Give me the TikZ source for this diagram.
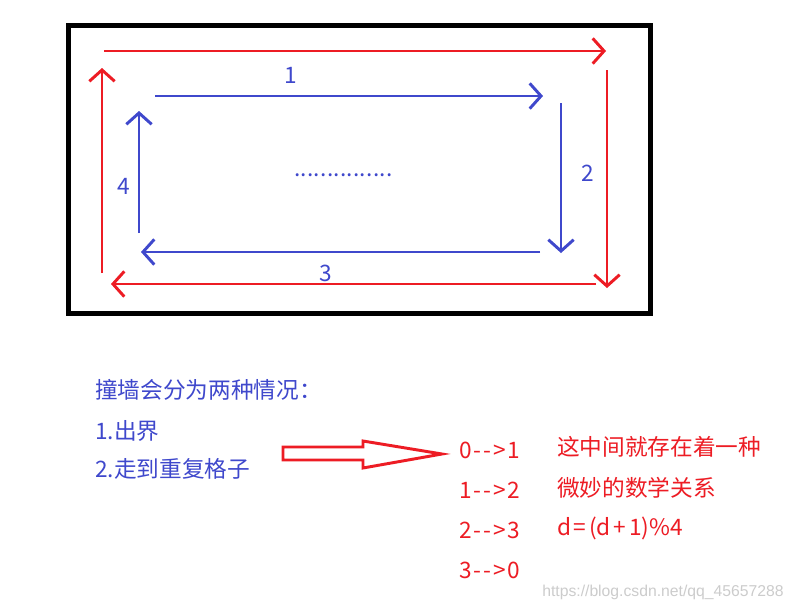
\documentclass[tikz,border=0pt]{standalone}
\usepackage{fontspec}
\setmainfont{Noto Sans CJK SC}
\newfontfamily\wmfont{Liberation Sans}
\usetikzlibrary{arrows.meta}
\definecolor{pred}{HTML}{ED1C24}
\definecolor{pblue}{HTML}{3F48CC}
\newcommand{\darr}{\kern1.2pt-\kern1.7pt-\kern1.7pt>\kern1.2pt}
\newcommand{\dotk}{.\kern0.2pt}
\begin{document}
\begin{tikzpicture}[x=0.75pt,y=-0.75pt,
  redarrow/.style={draw=pred,line width=2.2pt,-{Straight Barb[length=8.5pt,width=19pt]}},
  bluearrow/.style={draw=pblue,line width=2.2pt,-{Straight Barb[length=8.5pt,width=19pt]}},
  txt/.style={font=\fontsize{17pt}{20pt}\selectfont,inner sep=0pt,anchor=west},
  btxt/.style={txt,text=pblue},
  rtxt/.style={txt,text=pred},
  clbl/.style={font=\fontsize{17pt}{20pt}\selectfont,inner sep=0pt,text=pblue}
]
\useasboundingbox (0,0) rectangle (794,611);
\fill[white] (0,0) rectangle (794,611);
% frame
\draw[line width=3.75pt] (68,25) rectangle (650,313);
% red outer arrows
\coordinate (r1s) at (104,51); \coordinate (r1e) at (606,51);
\coordinate (r2s) at (607,70); \coordinate (r2e) at (607,288);
\coordinate (r3s) at (596,284); \coordinate (r3e) at (111,284);
\coordinate (r4s) at (102,273); \coordinate (r4e) at (102,68);
\draw[redarrow] (r1s) -- (r1e);
\draw[redarrow] (r2s) -- (r2e);
\draw[redarrow] (r3s) -- (r3e);
\draw[redarrow] (r4s) -- (r4e);
% blue inner arrows
\coordinate (b1s) at (155,96); \coordinate (b1e) at (543,96);
\coordinate (b2s) at (561,103); \coordinate (b2e) at (561,253);
\coordinate (b3s) at (540,252); \coordinate (b3e) at (141,252);
\coordinate (b4s) at (139,233); \coordinate (b4e) at (139,111);
\draw[bluearrow] (b1s) -- (b1e);
\draw[bluearrow] (b2s) -- (b2e);
\draw[bluearrow] (b3s) -- (b3e);
\draw[bluearrow] (b4s) -- (b4e);
% labels
\node[clbl] (l1) at (291,75) {1};
\node[clbl] (l2) at (588,173) {2};
\node[clbl] (l3) at (326,273) {3};
\node[clbl] (l4) at (124,186) {4};
\node[clbl,anchor=west] (dots) at (294,175) {\dotk\dotk\dotk\dotk\dotk\dotk\dotk\dotk\dotk\dotk\dotk\dotk\dotk\dotk.};
% left texts
\node[btxt] (t1) at (95,390) {撞墙会分为两种情况：};
\node[btxt] (t2) at (95,431) {1.出界};
\node[btxt] (t3) at (95,469) {2.走到重复格子};
% hollow arrow
\draw[draw=pred,line width=2.2pt,line join=miter]
  (283,447) -- (363,447) -- (363,441) -- (442,454) -- (363,468) -- (363,460) -- (283,460) -- cycle;
% right texts
\node[rtxt] (s1) at (459,450) {0\darr 1};
\node[rtxt] (s2) at (459,490) {1\darr 2};
\node[rtxt] (s3) at (459,530) {2\darr 3};
\node[rtxt] (s4) at (459,570) {3\darr 0};
\node[rtxt] (m1) at (557,447) {这中间就存在着一种};
\node[rtxt] (m2) at (557,488) {微妙的数学关系};
\node[rtxt] (m3) at (557,528) {d\kern2pt=\kern2pt(d\kern2.2pt+\kern2.2pt1)\%4};
% watermark
\node[inner sep=0pt,anchor=west,text=black!20,font=\wmfont\fontsize{11.8pt}{13pt}\selectfont] (wm) at (542,592) {https://blog.csdn.net/qq\_45657288};
\end{tikzpicture}
\end{document}
